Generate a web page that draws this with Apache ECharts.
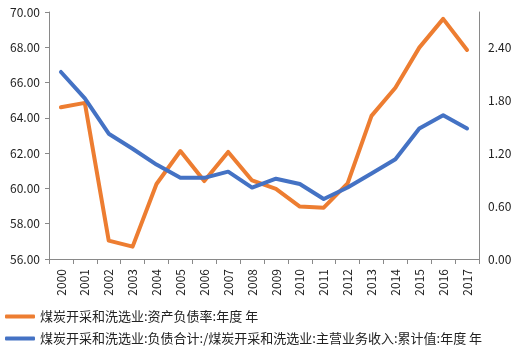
<!DOCTYPE html>
<html><head><meta charset="utf-8">
<script src="https://cdn.jsdelivr.net/npm/echarts@6/dist/echarts.min.js"></script>
<style>html,body{margin:0;padding:0;background:#fff}#c{width:520px;height:358px}</style>
</head><body><div id="c"></div>
<script>
var categories = ['2000','2001','2002','2003','2004','2005','2006','2007','2008','2009','2010','2011','2012','2013','2014','2015','2016','2017'];
var seriesNames = ['煤炭开采和洗选业:资产负债率:年度 年', '煤炭开采和洗选业:负债合计:/煤炭开采和洗选业:主营业务收入:累计值:年度 年'];
var debtRatio = [64.60, 64.85, 57.04, 56.70, 60.25, 62.12, 60.42, 62.07, 60.45, 59.97, 58.97, 58.91, 60.29, 64.11, 65.71, 67.98, 69.61, 67.85];
var debtToRevenue = [2.12, 1.82, 1.42, 1.25, 1.07, 0.92, 0.92, 0.99, 0.81, 0.91, 0.85, 0.68, 0.81, 0.97, 1.13, 1.48, 1.63, 1.48];
var font = '"Noto Sans CJK SC", "Noto Sans", sans-serif';
var chart = echarts.init(document.getElementById('c'));
chart.setOption({
  animation: false,
  textStyle: {fontFamily: font},
  grid: {left: 49, right: 41, top: 12, bottom: 99, containLabel: false},
  legend: {
    orient: 'vertical', left: 5, top: 310, padding: 0, itemGap: 9,
    itemWidth: 30, itemHeight: 4, icon: 'roundRect',
    textStyle: {fontFamily: font, fontSize: 13, color: '#222'},
    data: seriesNames
  },
  xAxis: {
    type: 'category', data: categories, boundaryGap: true,
    axisLine: {lineStyle: {color: '#898989'}},
    axisTick: {show: true, length: 5, alignWithLabel: false, lineStyle: {color: '#898989'}},
    axisLabel: {rotate: 90, interval: 0, fontSize: 12, color: '#222', margin: 10, fontFamily: font}
  },
  yAxis: [
    {type: 'value', min: 56, max: 70, interval: 2,
     axisLine: {show: true, lineStyle: {color: '#898989'}},
     axisTick: {show: true, length: 4, lineStyle: {color: '#898989'}},
     splitLine: {show: false},
     axisLabel: {formatter: function(v){return v.toFixed(2);}, fontSize: 12, color: '#222', margin: 9, fontFamily: font}},
    {type: 'value', min: 0, max: 2.8, interval: 0.6, position: 'right',
     axisLine: {show: true, lineStyle: {color: '#898989'}},
     axisTick: {show: false},
     splitLine: {show: false},
     axisLabel: {formatter: function(v){return v.toFixed(2);}, showMaxLabel: false, fontSize: 12, color: '#222', margin: 9, fontFamily: font}}
  ],
  series: [
    {name: seriesNames[0], type: 'line', yAxisIndex: 0, data: debtRatio, symbol: 'none',
     lineStyle: {color: '#ED7D31', width: 4, cap: 'round', join: 'round'}, itemStyle: {color: '#ED7D31'}},
    {name: seriesNames[1], type: 'line', yAxisIndex: 1, data: debtToRevenue, symbol: 'none',
     lineStyle: {color: '#4472C4', width: 4, cap: 'round', join: 'round'}, itemStyle: {color: '#4472C4'}}
  ]
});
</script></body></html>
